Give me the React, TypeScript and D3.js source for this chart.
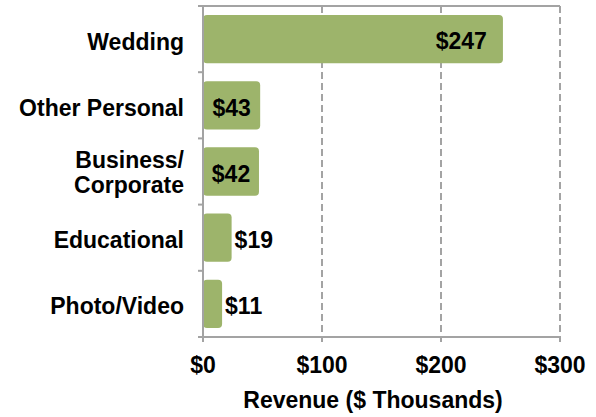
import React, { useRef, useEffect } from 'react';
import * as d3 from 'd3';

const categories: string[][] = [
    ['Wedding'],
    ['Other Personal'],
    ['Business/', 'Corporate'],
    ['Educational'],
    ['Photo/Video'],
];
const revenue: number[] = [247, 43, 42, 19, 11];
const xTicks: number[] = [0, 100, 200, 300];

const W = 596;
const H = 417;
const margin = { top: 6, right: 36, bottom: 80, left: 203 };
const barColor = '#9db46b';
const lineColor = '#a3a3a3';
const font = '"Liberation Sans", Arial, Helvetica, sans-serif';
const fs = 23;

const App: React.FC = () => {
    const ref = useRef<SVGSVGElement | null>(null);

    useEffect(() => {
        const svg = d3.select(ref.current);
        svg.selectAll('*').remove();

        const x = d3.scaleLinear().domain([0, 300]).range([margin.left, W - margin.right]);
        const y = d3.scaleBand<number>()
            .domain(d3.range(revenue.length))
            .range([margin.top, H - margin.bottom])
            .paddingInner(0.27)
            .paddingOuter(0.135);
        const step = y.step();
        const y0 = margin.top;
        const y1 = H - margin.bottom;

        // grid
        svg.append('g').selectAll('line')
            .data(xTicks.slice(1))
            .join('line')
            .attr('x1', d => x(d)).attr('x2', d => x(d))
            .attr('y1', y0).attr('y2', y1)
            .attr('stroke', lineColor)
            .attr('stroke-width', 2)
            .attr('stroke-dasharray', '7,4');

        // top border
        svg.append('line')
            .attr('x1', x(0)).attr('x2', x(300))
            .attr('y1', y0).attr('y2', y0)
            .attr('stroke', lineColor).attr('stroke-width', 2);

        // bars
        svg.append('g').selectAll('rect')
            .data(revenue)
            .join('rect')
            .attr('x', x(0))
            .attr('y', (d, i) => y(i) as number)
            .attr('width', d => x(d) - x(0) + 6)
            .attr('height', y.bandwidth())
            .attr('rx', 4)
            .attr('fill', barColor);

        // left axis + ticks
        svg.append('line')
            .attr('x1', x(0)).attr('x2', x(0))
            .attr('y1', y0).attr('y2', y1)
            .attr('stroke', lineColor).attr('stroke-width', 2);
        svg.append('g').selectAll('line')
            .data(d3.range(revenue.length + 1))
            .join('line')
            .attr('x1', x(0) - 5).attr('x2', x(0))
            .attr('y1', i => y0 + i * step).attr('y2', i => y0 + i * step)
            .attr('stroke', lineColor).attr('stroke-width', 2);

        // bottom axis + ticks
        svg.append('line')
            .attr('x1', x(0) - 5).attr('x2', x(300))
            .attr('y1', y1).attr('y2', y1)
            .attr('stroke', lineColor).attr('stroke-width', 2);
        svg.append('g').selectAll('line')
            .data(xTicks)
            .join('line')
            .attr('x1', d => x(d)).attr('x2', d => x(d))
            .attr('y1', y1).attr('y2', y1 + 5)
            .attr('stroke', lineColor).attr('stroke-width', 2);

        // tick labels
        svg.append('g').selectAll('text')
            .data(xTicks)
            .join('text')
            .attr('x', d => x(d))
            .attr('y', 373)
            .attr('text-anchor', 'middle')
            .attr('font-family', font)
            .attr('font-weight', 'bold')
            .attr('font-size', fs)
            .text(d => `$${d}`);

        // axis title
        svg.append('text')
            .attr('x', 373)
            .attr('y', 408)
            .attr('text-anchor', 'middle')
            .attr('font-family', font)
            .attr('font-weight', 'bold')
            .attr('font-size', fs)
            .text('Revenue ($ Thousands)');

        // category labels
        const cat = svg.append('g').selectAll('text')
            .data(categories)
            .join('text')
            .attr('text-anchor', 'end')
            .attr('font-family', font)
            .attr('font-weight', 'bold')
            .attr('font-size', fs);
        cat.each(function (lines, i) {
            const cy = (y(i) as number) + y.bandwidth() / 2;
            const lh = 25;
            lines.forEach((ln, k) => {
                d3.select(this).append('tspan')
                    .attr('x', 184)
                    .attr('y', cy + (k - (lines.length - 1) / 2) * lh)
                    .attr('dy', lines.length > 1 ? '0.4em' : '0.46em')
                    .text(ln);
            });
        });

        // value labels
        svg.append('g').selectAll('text')
            .data(revenue)
            .join('text')
            .attr('font-family', font)
            .attr('font-weight', 'bold')
            .attr('font-size', fs)
            .attr('dy', '0.45em')
            .attr('y', (d, i) => (y(i) as number) + y.bandwidth() / 2)
            .attr('x', d => {
                const w = x(d) - x(0);
                if (w > 100) return x(d) - 10;
                if (w > 40) return x(0) + (w + 6) / 2;
                return x(d) + 9;
            })
            .attr('text-anchor', d => {
                const w = x(d) - x(0);
                if (w > 100) return 'end';
                if (w > 40) return 'middle';
                return 'start';
            })
            .text(d => `$${d}`);
    }, []);

    return (
        <svg ref={ref} width={W} height={H}
            style={{ position: 'absolute', left: 0, top: 0, background: '#fff' }} />
    );
};

export default App;
